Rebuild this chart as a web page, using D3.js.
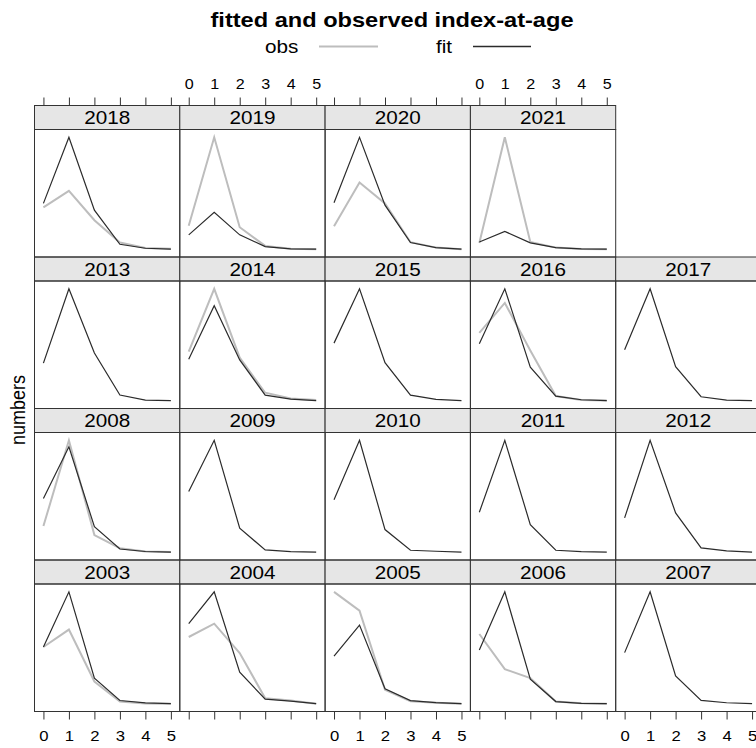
<!DOCTYPE html>
<html><head><meta charset="utf-8">
<script src="https://cdn.jsdelivr.net/npm/d3@7"></script>
<style>body{margin:0;background:#fff}svg{display:block}text{font-family:"Liberation Sans",Arial,Helvetica,sans-serif}</style>
</head><body>
<script>
const years = [2003,2004,2005,2006,2007,2008,2009,2010,2011,2012,2013,2014,2015,2016,2017,2018,2019,2020,2021];
const ages = [0,1,2,3,4,5];
const ageTicks = [0,1,2,3,4,5];
const fitValues = [
  [50.8,100,23,3,0.9,0.2],
  [71.6,100,28.4,4.2,2.4,0.2],
  [42.6,70.3,13.5,2.9,1.1,0.2],
  [48.1,100,22,2,0.4,0.1],
  [45.7,100,24.9,3,0.9,0.1],
  [48,94.2,22.8,2.9,0.7,0.1],
  [54.3,100,21.5,2.1,0.5,0.1],
  [47,100,20.3,1.8,0.9,0.1],
  [35.7,100,24.7,1.8,0.6,0.1],
  [30.7,100,35.2,3.9,1.2,0.1],
  [33.6,100,42.6,5.1,0.6,0.1],
  [37.2,85,36.5,5.1,1.5,0.1],
  [51.5,100,34.1,5.1,1.2,0.1],
  [50.9,100,30,4.2,0.9,0.1],
  [45.5,100,30.5,3.6,0.6,0.1],
  [41,100,35,4.5,0.9,0.1],
  [12.9,33,12.9,2.4,0.3,0.1],
  [41.5,100,39.4,6,1.5,0.1],
  [6.5,16,5.7,1.5,0.3,0.1]
];
const obsValues = [
  [50.8,66.3,20,2.1,0.4,0.2],
  [59.7,71.6,45.4,5.1,3,0.2],
  [100,83.2,12.6,2.3,1.1,0.2],
  [62.3,30.9,22.9,2,0.4,0.1],
  null,
  [23.4,100,15.4,3.6,0.7,0.3],
  null,
  null,
  null,
  null,
  null,
  [44,100,38.5,7.2,2,0.6],
  null,
  [60.6,87.4,45,4.2,0.6,0.2],
  null,
  [37.4,52.2,26,6,1.2,0.5],
  [21,100,19.7,3,0.5,0.1],
  [20.6,59.6,41,6.3,1.5,0.1],
  [5.7,100,6.5,1.5,0.3,0.1]
];
const titleText = "fitted and observed index-at-age";
const legendLabels = ["obs","fit"];
const yLabel = "numbers";

const W = 756, H = 748;
const SX = 1.15;
const gridLeft = 34.5, colW = 145.3, gridTop = 105.5, stripH = 24, panelH = 127.5, rowH = 151.5;
const nCols = 5, nRows = 4;
const obsColor = "#bdbdbd", fitColor = "#2b2b2b", borderColor = "#333";

const svg = d3.select("body").append("svg").attr("width", W).attr("height", H);

function txt(g, x, y, s, size, opts = {}) {
  return g.append("text")
    .attr("transform", `translate(${x},${y}) scale(${opts.sx || SX},1)` + (opts.rot ? ` rotate(${opts.rot})` : ""))
    .attr("text-anchor", opts.anchor || "middle")
    .attr("font-size", size)
    .attr("font-weight", opts.bold ? "bold" : "normal")
    .attr("fill", "#000")
    .text(s);
}

// title
txt(svg, 392, 27, titleText, 20, {bold: true, sx: 1.18});
// legend
txt(svg, 265, 53, legendLabels[0], 18, {anchor: "start"});
svg.append("line").attr("x1", 319).attr("x2", 378).attr("y1", 46.5).attr("y2", 46.5).attr("stroke", obsColor).attr("stroke-width", 2);
txt(svg, 436, 53, legendLabels[1], 18, {anchor: "start"});
svg.append("line").attr("x1", 473).attr("x2", 531).attr("y1", 46.5).attr("y2", 46.5).attr("stroke", fitColor).attr("stroke-width", 1.3);
// y label
txt(svg, 24.5, 410, yLabel, 18, {rot: -90});

const x = d3.scaleLinear().domain([ages[0] - 0.35, ages[ages.length - 1] + 0.35]).range([0, colW]);

years.forEach((yr, i) => {
  const col = i % nCols, row = nRows - 1 - Math.floor(i / nCols);
  const gx = gridLeft + col * colW, gy = gridTop + row * rowH;
  const g = svg.append("g").attr("transform", `translate(${gx},${gy})`);
  g.append("rect").attr("width", colW).attr("height", stripH).attr("fill", "#e6e6e6").attr("stroke", borderColor).attr("stroke-width", 1);
  txt(g, colW / 2, stripH - 5.5, String(yr), 18);
  const pg = g.append("g").attr("transform", `translate(0,${stripH})`);
  const fit = fitValues[i], obs = obsValues[i];
  const all = fit.concat(obs || []);
  const [lo, hi] = d3.extent(all);
  const pad = 0.07 * (hi - lo);
  const y = d3.scaleLinear().domain([lo - pad, hi + pad]).range([panelH, 0]);
  const line = d3.line().defined(d => d != null).x((d, j) => x(ages[j])).y(d => y(d));
  if (obs) pg.append("path").attr("d", line(obs)).attr("fill", "none").attr("stroke", obsColor).attr("stroke-width", 2);
  pg.append("path").attr("d", line(fit)).attr("fill", "none").attr("stroke", fitColor).attr("stroke-width", 1.2);
  pg.append("rect").attr("width", colW).attr("height", panelH).attr("fill", "none").attr("stroke", borderColor).attr("stroke-width", 1);

  if (row === 0) {
    const ax = g.append("g").call(d3.axisTop(x).tickValues(ageTicks).tickSize(8).tickPadding(9)
      .tickFormat(col % 2 === 1 ? d3.format("d") : () => ""));
    ax.select(".domain").remove();
    ax.selectAll("line").attr("stroke", borderColor);
    ax.selectAll("text").attr("font-size", 14).attr("fill", "#000").attr("font-family", null)
      .attr("transform", `scale(${SX},1)`);
  }
  if (row === nRows - 1) {
    const ax = g.append("g").attr("transform", `translate(0,${stripH + panelH})`)
      .call(d3.axisBottom(x).tickValues(ageTicks).tickSize(8).tickPadding(11)
      .tickFormat(col % 2 === 0 ? d3.format("d") : () => ""));
    ax.select(".domain").remove();
    ax.selectAll("line").attr("stroke", borderColor);
    ax.selectAll("text").attr("font-size", 14.5).attr("fill", "#000").attr("font-family", null)
      .attr("transform", `scale(${SX},1)`);
  }
});
</script>
</body></html>
